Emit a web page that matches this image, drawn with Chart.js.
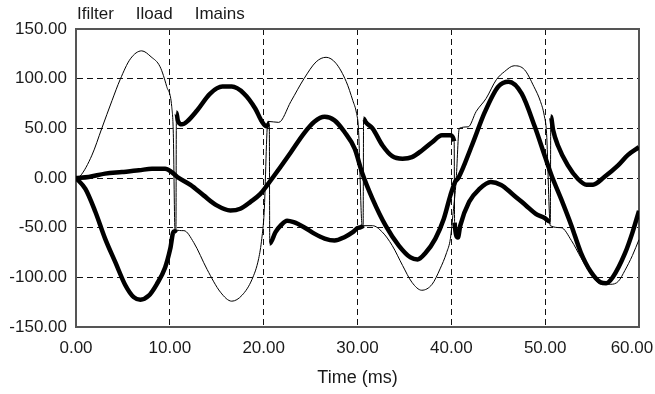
<!DOCTYPE html>
<html>
<head>
<meta charset="utf-8">
<script src="https://cdn.jsdelivr.net/npm/chart.js@4.4.1/dist/chart.umd.min.js"></script>
<style>
  html, body { margin: 0; padding: 0; background: #fff; }
  #wrap { width: 655px; height: 394px; }
</style>
</head>
<body>
<div id="wrap"><canvas id="chart" width="655" height="394"></canvas></div>
<script>
// Series names (legend order)
const seriesNames = ['Ifilter', 'Iload', 'Imains'];

// Ifilter - thick, noisy
const ifilterTime = [0, 1.0, 2.06, 3.1, 4.2, 5.26, 6.15, 6.86, 7.75, 8.6, 9.5, 10.05, 10.4, 10.65, 10.7, 10.85, 11.3, 11.85, 12.9, 14.3, 15.6, 16.6, 17.9, 19.1, 19.8, 20.3, 20.6, 20.65, 21.26, 21.8, 22.5, 23.2, 24.3, 25.4, 26.5, 27.55, 28.6, 29.5, 30.1, 30.6, 30.65, 30.9, 31.6, 32.65, 33.7, 34.8, 35.8, 36.9, 37.95, 39.0, 39.9, 40.3, 40.35, 40.7, 40.95, 41.9, 43.0, 44.2, 45.3, 46.5, 47.95, 49.0, 49.9, 50.55, 50.6, 50.85, 51.35, 52.4, 53.5, 54.4, 55.1, 56.3, 57.8, 58.8, 60];
const ifilterValues = [0, -11, -34, -61, -85, -108, -120, -122.5, -118.5, -107, -90, -71, -54, -52, 66, 58, 54, 57, 68, 85, 92, 92, 85, 70, 57, 52, 55, -66, -54.5, -48, -43, -44.5, -49.5, -56, -61, -63, -59.6, -54.5, -50, -48, 60, 56, 50, 33, 22, 19.5, 21, 28, 36, 43, 43, 37, -45, -60, -48, -24, -11, -4, -7, -16, -27.6, -36, -40, -44, 62, 48, 33, 13, -1, -6.7, -6.7, 1, 13, 23, 31];

// Iload - thin
const iloadTime = [0, 0.45, 1.7, 2.75, 3.84, 4.7, 5.8, 7.0, 8.0, 8.96, 9.67, 10.2, 10.37, 10.55, 11.5, 12.55, 13.97, 15.4, 16.6, 17.7, 18.76, 19.47, 19.8, 20.05, 20.45, 21.6, 22.9, 24.3, 25.6, 26.65, 27.7, 28.8, 29.5, 29.9, 30.1, 30.5, 31.6, 32.65, 33.7, 34.8, 35.8, 36.85, 37.95, 38.8, 39.5, 39.9, 40.2, 40.5, 40.85, 41.8, 42.65, 43.7, 44.8, 45.65, 46.7, 47.8, 48.8, 49.5, 49.9, 50.15, 50.55, 51.7, 52.8, 53.8, 54.9, 56.0, 57.0, 57.8, 58.5, 59.3, 60];
const iloadValues = [0, 2, 23, 50, 78, 99, 120, 128, 122, 112, 92, 72, 45, -52, -53, -65, -92, -115, -124, -118, -102, -81, -61, -35, 57, 56, 77, 100, 117, 121.5, 115.5, 97, 78, 65, 50, -48, -48, -54.5, -68, -88, -105, -113, -107, -91.5, -75, -61, -34, -4, 50, 51.5, 67, 80, 99, 107, 113, 109, 92, 77, 63, 45, -48, -50, -63, -80, -97, -107, -107, -104, -93, -78, -62];

// Imains - thick, noisy
const imainsTime = [0, 1.35, 3.1, 4.9, 6.7, 8.1, 9.5, 10.2, 10.8, 12.2, 13.6, 15.0, 16.45, 17.5, 18.6, 19.65, 20.36, 21.4, 22.9, 24.3, 25.4, 26.5, 27.55, 28.6, 29.7, 30.5, 31.6, 33.0, 34.4, 35.65, 36.4, 37.2, 38.3, 39.2, 39.9, 40.4, 40.75, 42.2, 43.6, 45.0, 46.1, 47.5, 48.9, 50.0, 50.7, 51.7, 52.8, 53.8, 54.9, 55.9, 56.5, 57.2, 58.5, 59.3, 60];
const imainsValues = [0, 1, 4.4, 6, 7.7, 9.4, 9.4, 6, 1, -7, -17.5, -27.6, -32.7, -31, -24, -16, -7.4, 6, 26, 45, 56.6, 61.6, 58, 46.5, 29.6, 5, -21, -48, -68, -80, -82, -76, -61, -41, -17.5, -4, 0, 33, 67, 92, 97, 85, 51.5, 21, 2, -21, -48, -75, -95, -105, -106, -100, -76, -55, -33];

// Axis ticks
const xTicks = [0, 10, 20, 30, 40, 50, 60];
const yTicks = [-150, -100, -50, 0, 50, 100, 150];
const xTitle = 'Time (ms)';

const FONT = '"Liberation Sans", Arial, sans-serif';
const TEXT = '#1a1a1a';

const toPoints = (ts, vs) => ts.map((t, i) => ({ x: t, y: vs[i] }));

// vertical jumps in the noisy traces are drawn thin, as in the source plot
const thickSegment = (w) => ({
    borderWidth: (ctx) => (ctx.p1.parsed.x - ctx.p0.parsed.x < 0.08 ? 1 : w)
});

// Text-only legend above the plot
const textLegend = {
    id: 'textLegend',
    afterDraw(chart) {
        const { ctx, chartArea } = chart;
        ctx.save();
        ctx.font = '17px ' + FONT;
        ctx.fillStyle = TEXT;
        ctx.textBaseline = 'alphabetic';
        let x = chartArea.left + 1;
        chart.data.datasets.forEach((ds) => {
            ctx.fillText(ds.label, x, 18.5);
            x += ctx.measureText(ds.label).width + 22;
        });
        ctx.restore();
    }
};

// solid frame around the plot area
const frame = {
    id: 'frame',
    beforeDatasetsDraw(chart) {
        const { ctx, chartArea: a } = chart;
        ctx.save();
        ctx.strokeStyle = '#555';
        ctx.lineWidth = 2;
        ctx.strokeRect(a.left, a.top, a.right - a.left, a.bottom - a.top);
        ctx.restore();
    }
};

const common = {
    fill: false,
    pointRadius: 0,
    borderColor: '#000',
    cubicInterpolationMode: 'monotone'
};

new Chart(document.getElementById('chart'), {
    type: 'line',
    data: {
        datasets: [
            { ...common, label: seriesNames[0], data: toPoints(ifilterTime, ifilterValues), borderWidth: 4.5, segment: thickSegment(4.5) },
            { ...common, label: seriesNames[1], data: toPoints(iloadTime, iloadValues), borderWidth: 1 },
            { ...common, label: seriesNames[2], data: toPoints(imainsTime, imainsValues), borderWidth: 4.5, segment: thickSegment(4.5) }
        ]
    },
    options: {
        responsive: false,
        animation: false,
        devicePixelRatio: 1,
        layout: { padding: { top: 29, right: 16, left: 0, bottom: 0 } },
        plugins: {
            legend: { display: false },
            tooltip: { enabled: false }
        },
        scales: {
            x: {
                type: 'linear',
                min: xTicks[0],
                max: xTicks[xTicks.length - 1],
                afterBuildTicks: (s) => { s.ticks = xTicks.map(v => ({ value: v })); },
                afterFit: (s) => { s.height = 67; s.paddingLeft = 0; s.paddingRight = 0; },
                grid: { color: '#111', lineWidth: 1, drawTicks: false },
                border: { display: true, color: '#555', width: 2, dash: [6, 4] },
                ticks: {
                    color: TEXT,
                    font: { family: FONT, size: 17 },
                    padding: 11,
                    maxRotation: 0,
                    autoSkip: false,
                    // last label is pushed left to stay inside the canvas
                    callback: (v) => Number(v).toFixed(2) + (v === xTicks[xTicks.length - 1] ? '   ' : '')
                },
                title: {
                    display: true,
                    text: xTitle,
                    color: TEXT,
                    font: { family: FONT, size: 18 },
                    padding: { top: 0, bottom: 5 }
                }
            },
            y: {
                min: yTicks[0],
                max: yTicks[yTicks.length - 1],
                afterBuildTicks: (s) => { s.ticks = yTicks.map(v => ({ value: v })); },
                afterFit: (s) => { s.width = 76; s.paddingTop = 0; s.paddingBottom = 0; },
                grid: { color: '#111', lineWidth: 1, drawTicks: false },
                border: { display: true, color: '#555', width: 2, dash: [6, 4] },
                ticks: {
                    color: TEXT,
                    font: { family: FONT, size: 17 },
                    padding: 9,
                    callback: (v) => Number(v).toFixed(2)
                }
            }
        }
    },
    plugins: [textLegend, frame]
});
</script>
</body>
</html>
